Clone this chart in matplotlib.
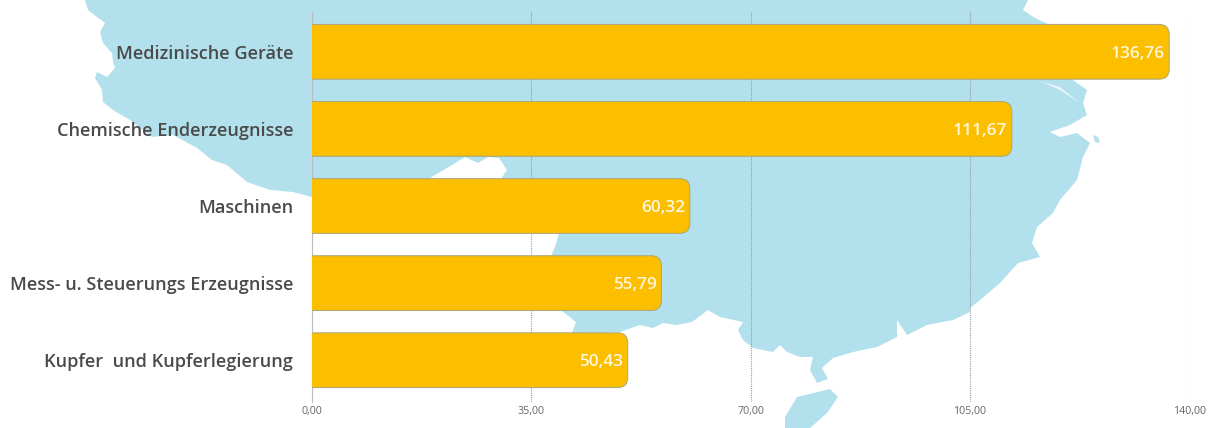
import matplotlib
matplotlib.use('Agg')
import matplotlib.pyplot as plt
from matplotlib.path import Path
from matplotlib.patches import PathPatch, Polygon

categories = ['Medizinische Geräte', 'Chemische Enderzeugnisse', 'Maschinen',
              'Mess- u. Steuerungs Erzeugnisse', 'Kupfer  und Kupferlegierung']
values = [136.76, 111.67, 60.32, 55.79, 50.43]
value_labels = ['136,76', '111,67', '60,32', '55,79', '50,43']
xticks = [0, 35, 70, 105, 140]
xtick_labels = ['0,00', '35,00', '70,00', '105,00', '140,00']

# background map outline, image pixels (decoration only)
mainland = [(85,0),(88,10),(97,17),(105,23),(100,32),(103,43),(112,53),(113,62),(115,68),(107,77),(97,72),
            (95,78),(102,90),(103,102),(113,110),(130,120),(152,137),(173,135),(197,148),(212,160),(227,165),
            (247,182),(270,190),(293,192),(312,197),(430,178),(452,165),(465,157),(478,163),(488,157),(499,158),
            (507,170),(501,179),(559,233),(555,247),(551,256),(562,311),(576,322),(572,333),(620,332),
            (640,325),(653,328),(663,323),(677,325),(692,322),(708,310),(720,317),(743,322),(738,330),(743,340),
            (753,348),(773,352),(780,345),(787,352),(800,357),(813,357),(810,370),(817,383),(828,379),(822,368),
            (833,358),(853,352),(877,347),(897,337),(897,320),(907,335),(927,325),(953,320),(970,312),(970,308),
            (980,300),(1000,283),(1018,263),(1040,257),(1032,243),(1037,227),(1053,213),(1060,200),(1077,180),
            (1083,157),(1090,143),(1077,133),(1060,137),(1050,132),(1070,125),(1087,115),(1083,103),(1087,90),
            (1073,80),(1048,24),(1035,18),(1023,10),(1028,0)]
hainan = [(785,417),(797,397),(830,389),(838,397),(827,413),(810,428),(785,428)]
islet = [(1093,135),(1098,137),(1100,143),(1095,142)]
river = [(1040,81),(1060,87),(1080,103),(1060,90)]

plt.rcParams['font.family'] = ['Open Sans', 'DejaVu Sans']

fig = plt.figure(figsize=(12.09, 4.28), dpi=100)
W, H = 1209, 428

bg = fig.add_axes([0, 0, 1, 1], zorder=0)
bg.set_xlim(0, W)
bg.set_ylim(H, 0)
bg.axis('off')
for shape in (mainland, hainan, islet):
    bg.add_patch(Polygon(shape, closed=True, fc='#B2E0EC', ec='none'))
bg.add_patch(Polygon(river, closed=True, fc='#EAF6FA', ec='none'))

# plot area 311.5..1189.5 px wide, 11.7..402 px tall
ax = fig.add_axes([311.5/W, 1-402/H, 878/W, 390.3/H], zorder=1)
ax.patch.set_alpha(0)
ax.set_xlim(0, 140)
ax.set_ylim(4.542, -0.52)

rx = 10 / (878/140)
ry = 10 / 77.1
hh = 0.355
for i, v in enumerate(values):
    verts = [(0, i-hh), (v-rx, i-hh), (v, i-hh), (v, i-hh+ry), (v, i+hh-ry), (v, i+hh),
             (v-rx, i+hh), (0, i+hh), (0, i-hh)]
    codes = [Path.MOVETO, Path.LINETO, Path.CURVE3, Path.CURVE3, Path.LINETO, Path.CURVE3,
             Path.CURVE3, Path.LINETO, Path.CLOSEPOLY]
    ax.add_patch(PathPatch(Path(verts, codes), fc='#FBBF00', ec='#A9A57F', lw=0.7, zorder=3))
    ax.annotate(value_labels[i], (v, i), xytext=(-3.2, -1.6), textcoords='offset points',
                ha='right', va='center', color='#FFF6DC', fontsize=12.4, fontweight='semibold', zorder=4)

ax.set_xticks(xticks, xtick_labels)
ax.set_yticks(range(len(categories)), categories)
ax.grid(axis='x', color='#9A9A9A', lw=0.8, ls=(0, (1, 1)), zorder=1)
ax.tick_params(axis='x', length=0, pad=3, labelsize=7.7, labelcolor='#666666')
ax.tick_params(axis='y', length=0, pad=13.2, labelsize=13.1, labelcolor='#4A4A4A')
for lab in ax.get_yticklabels():
    lab.set_fontweight('semibold')
for name, sp in ax.spines.items():
    sp.set_visible(name == 'left')
ax.spines['left'].set_color('#BDBDBD')
ax.spines['left'].set_linewidth(0.8)

fig.savefig('out.png', dpi=100)
